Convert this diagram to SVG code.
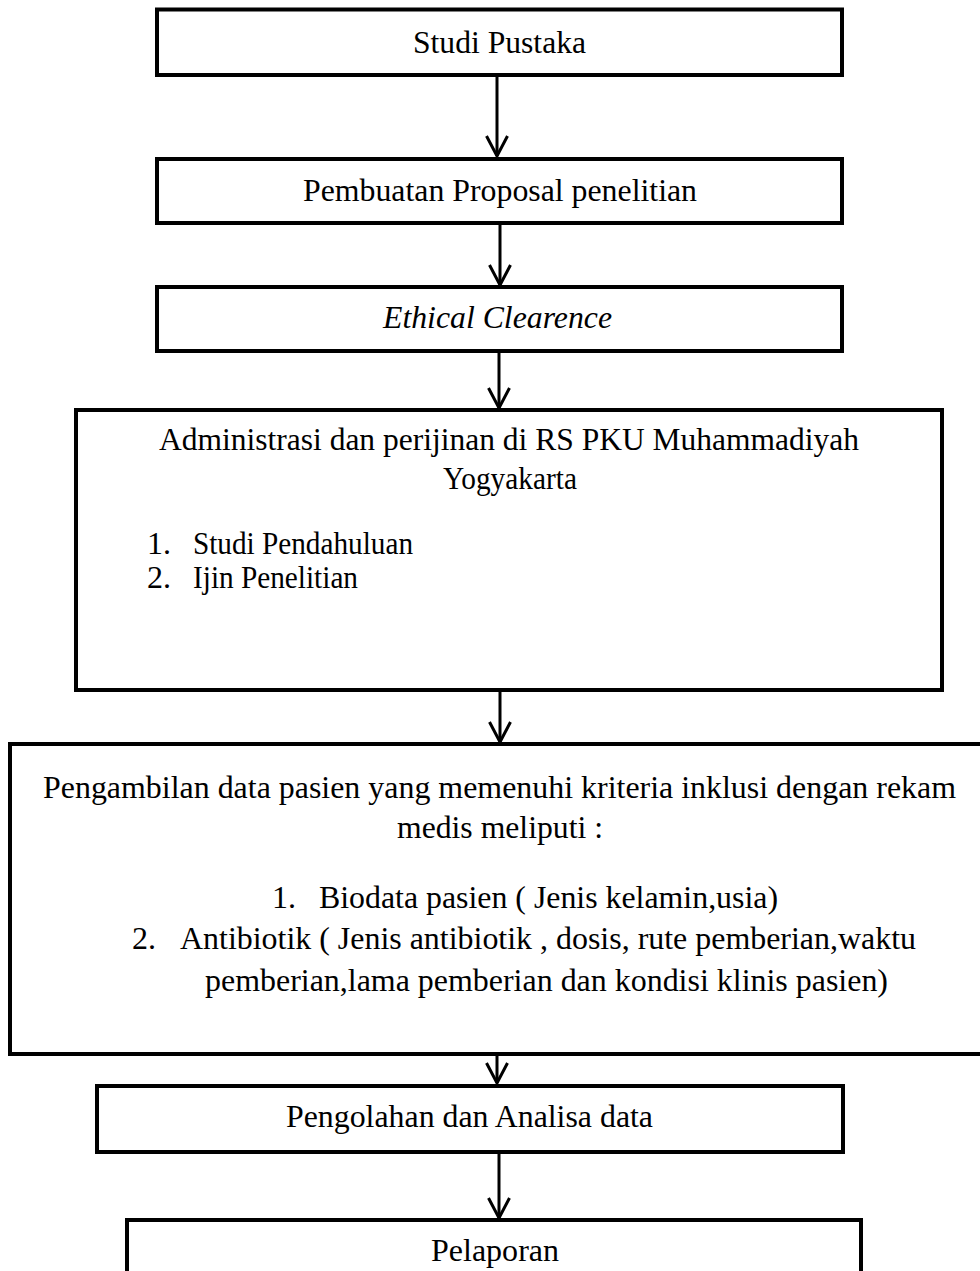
<svg xmlns="http://www.w3.org/2000/svg" width="980" height="1271" viewBox="0 0 980 1271">
<style>
.box{fill:#fff;stroke:#000;stroke-width:4}
.t{font-family:"Liberation Serif","Times New Roman",serif;font-size:32px;fill:#000}
.i{font-style:italic}
.conn{stroke:#000;stroke-width:3;fill:none}
</style>
<defs>
<marker id="ah" markerUnits="userSpaceOnUse" markerWidth="24" markerHeight="24" refX="0" refY="0" orient="auto" overflow="visible">
<path d="M -20 -10.5 L 0 0 L -20 10.5" fill="none" stroke="#000" stroke-width="3"/>
</marker>
</defs>
<rect width="980" height="1271" fill="#fff"/>
<g id="connectors">
<line class="conn" x1="497" y1="75" x2="497" y2="156" marker-end="url(#ah)"/>
<line class="conn" x1="500" y1="223" x2="500" y2="285" marker-end="url(#ah)"/>
<line class="conn" x1="499" y1="351" x2="499" y2="408" marker-end="url(#ah)"/>
<line class="conn" x1="500" y1="690" x2="500" y2="742" marker-end="url(#ah)"/>
<line class="conn" x1="497" y1="1054" x2="497" y2="1083" marker-end="url(#ah)"/>
<line class="conn" x1="499" y1="1152" x2="499" y2="1218" marker-end="url(#ah)"/>
</g>
<g id="n1">
<rect class="box" x="157" y="9.5" width="685" height="65.5"/>
<text class="t" x="413" y="53" textLength="173" lengthAdjust="spacingAndGlyphs">Studi Pustaka</text>
</g>
<g id="n2">
<rect class="box" x="157" y="159" width="685" height="64"/>
<text class="t" x="303" y="201" textLength="394" lengthAdjust="spacingAndGlyphs">Pembuatan Proposal penelitian</text>
</g>
<g id="n3">
<rect class="box" x="157" y="287" width="685" height="64"/>
<text class="t i" x="383" y="328" textLength="229" lengthAdjust="spacingAndGlyphs">Ethical Clearence</text>
</g>
<g id="n4">
<rect class="box" x="76" y="410" width="866" height="280"/>
<text class="t" x="159" y="450" textLength="700" lengthAdjust="spacingAndGlyphs">Administrasi dan perijinan di RS PKU Muhammadiyah</text>
<text class="t" x="443" y="489" textLength="134" lengthAdjust="spacingAndGlyphs">Yogyakarta</text>
<text class="t" x="147" y="554" textLength="24" lengthAdjust="spacingAndGlyphs">1.</text>
<text class="t" x="193" y="554" textLength="220" lengthAdjust="spacingAndGlyphs">Studi Pendahuluan</text>
<text class="t" x="147" y="588" textLength="24" lengthAdjust="spacingAndGlyphs">2.</text>
<text class="t" x="193" y="588" textLength="165" lengthAdjust="spacingAndGlyphs">Ijin Penelitian</text>
</g>
<g id="n5">
<rect class="box" x="10" y="744" width="985" height="310"/>
<text class="t" x="43" y="798" textLength="913" lengthAdjust="spacingAndGlyphs">Pengambilan data pasien yang memenuhi kriteria inklusi dengan rekam</text>
<text class="t" x="397" y="838" textLength="206" lengthAdjust="spacingAndGlyphs">medis meliputi :</text>
<text class="t" x="272" y="908" textLength="24" lengthAdjust="spacingAndGlyphs">1.</text>
<text class="t" x="319" y="908" textLength="459" lengthAdjust="spacingAndGlyphs">Biodata pasien ( Jenis kelamin,usia)</text>
<text class="t" x="132" y="949" textLength="24" lengthAdjust="spacingAndGlyphs">2.</text>
<text class="t" x="180" y="949" textLength="736" lengthAdjust="spacingAndGlyphs">Antibiotik ( Jenis antibiotik , dosis, rute pemberian,waktu</text>
<text class="t" x="205" y="991" textLength="683" lengthAdjust="spacingAndGlyphs">pemberian,lama pemberian dan kondisi klinis pasien)</text>
</g>
<g id="n6">
<rect class="box" x="97" y="1086" width="746" height="66"/>
<text class="t" x="286" y="1127" textLength="367" lengthAdjust="spacingAndGlyphs">Pengolahan dan Analisa data</text>
</g>
<g id="n7">
<rect class="box" x="127" y="1220" width="734" height="80"/>
<text class="t" x="431" y="1261" textLength="128" lengthAdjust="spacingAndGlyphs">Pelaporan</text>
</g>
</svg>
